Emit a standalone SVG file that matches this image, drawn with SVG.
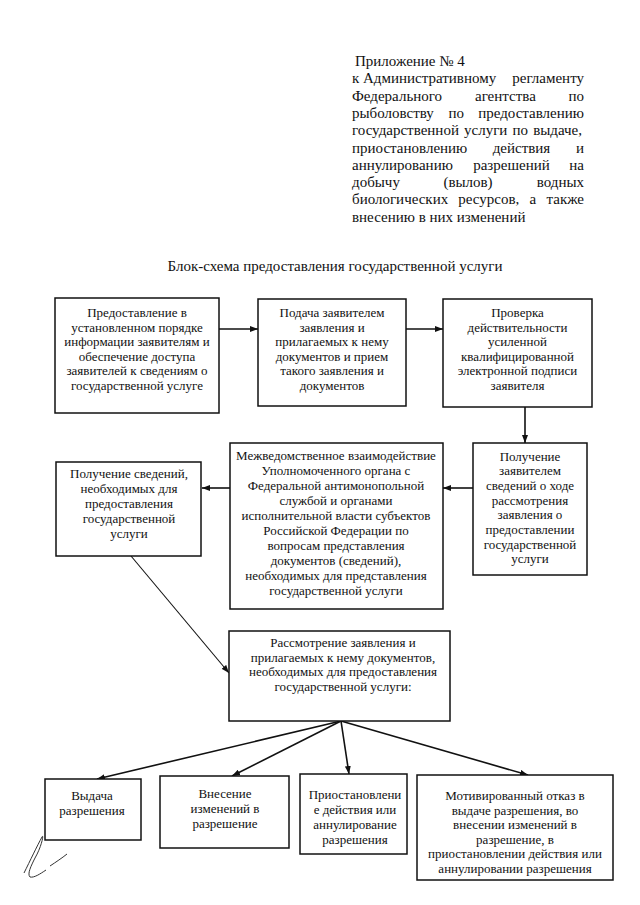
<svg xmlns="http://www.w3.org/2000/svg" width="640" height="905" viewBox="0 0 640 905">
<style>
  .hdr { font-family: "Liberation Serif", "Times New Roman", serif; font-size: 15px; fill: #111; }
  .t { font-family: "Liberation Serif", "Times New Roman", serif; font-size: 13px; fill: #111; text-anchor: middle; }
  .box { fill: #fff; stroke: #111; stroke-width: 1.5; }
  .conn { stroke: #111; stroke-width: 1.6; fill: none; }
  .thin { stroke: #111; stroke-width: 1.1; fill: none; }
</style>
<defs>
  <marker id="ah" viewBox="0 0 8 6" refX="8" refY="3" markerWidth="8" markerHeight="6" markerUnits="userSpaceOnUse" orient="auto">
    <path d="M0,0 L8,3 L0,6 Z" fill="#111"/>
  </marker>
</defs>
<rect width="640" height="905" fill="#fff"/>

<g id="header">
  <text class="hdr" x="355" y="66">Приложение № 4</text>
  <text class="hdr" x="352" y="83.3">к Административному</text>
  <text class="hdr" x="584" y="83.3" text-anchor="end">регламенту</text>
  <text class="hdr" x="352" y="100.6">Федерального</text>
  <text class="hdr" x="475" y="100.6">агентства</text>
  <text class="hdr" x="584" y="100.6" text-anchor="end">по</text>
  <text class="hdr" x="352" y="117.9">рыболовству</text>
  <text class="hdr" x="448.6" y="117.9">по</text>
  <text class="hdr" x="584" y="117.9" text-anchor="end">предоставлению</text>
  <text class="hdr" x="352" y="135.2" word-spacing="1.4">государственной услуги по выдаче,</text>
  <text class="hdr" x="352" y="152.5">приостановлению</text>
  <text class="hdr" x="492.7" y="152.5">действия</text>
  <text class="hdr" x="584" y="152.5" text-anchor="end">и</text>
  <text class="hdr" x="352" y="169.8">аннулированию</text>
  <text class="hdr" x="473.2" y="169.8">разрешений</text>
  <text class="hdr" x="584" y="169.8" text-anchor="end">на</text>
  <text class="hdr" x="352" y="187.1">добычу</text>
  <text class="hdr" x="443.4" y="187.1">(вылов)</text>
  <text class="hdr" x="584" y="187.1" text-anchor="end">водных</text>
  <text class="hdr" x="352" y="204.4">биологических</text>
  <text class="hdr" x="458.3" y="204.4">ресурсов,</text>
  <text class="hdr" x="529.5" y="204.4">а</text>
  <text class="hdr" x="584" y="204.4" text-anchor="end">также</text>
  <text class="hdr" x="352" y="221.7">внесению в них изменений</text>
</g>

<g id="title">
  <text class="hdr" x="335" y="271" text-anchor="middle">Блок-схема предоставления государственной услуги</text>
</g>

<g id="connectors">
  <line class="conn" x1="219" y1="329" x2="258" y2="329" marker-end="url(#ah)"/>
  <line class="conn" x1="406" y1="329" x2="443" y2="329" marker-end="url(#ah)"/>
  <line class="conn" x1="525" y1="407" x2="525" y2="443" marker-end="url(#ah)"/>
  <line class="conn" x1="473" y1="488" x2="443" y2="488" marker-end="url(#ah)"/>
  <line class="conn" x1="230" y1="488" x2="202" y2="488" marker-end="url(#ah)"/>
  <line class="thin" x1="131" y1="556" x2="229" y2="673" marker-end="url(#ah)"/>
  <line class="conn" x1="341" y1="721" x2="97" y2="779" marker-end="url(#ah)"/>
  <line class="conn" x1="341" y1="721" x2="232" y2="776" marker-end="url(#ah)"/>
  <line class="conn" x1="341" y1="721" x2="349" y2="774" marker-end="url(#ah)"/>
  <line class="conn" x1="341" y1="721" x2="528" y2="775" marker-end="url(#ah)"/>
</g>

<g id="n1">
  <rect class="box" x="55" y="298" width="164" height="115"/>
  <text class="t" x="137" y="317">Предоставление в</text>
  <text class="t" x="137" y="331.5">установленном порядке</text>
  <text class="t" x="137" y="346">информации заявителям и</text>
  <text class="t" x="137" y="360.5">обеспечение доступа</text>
  <text class="t" x="137" y="375">заявителей к сведениям о</text>
  <text class="t" x="137" y="389.5">государственной услуге</text>
</g>

<g id="n2">
  <rect class="box" x="258" y="299" width="148" height="107"/>
  <text class="t" x="332" y="317">Подача заявителем</text>
  <text class="t" x="332" y="331.5">заявления и</text>
  <text class="t" x="332" y="346">прилагаемых к нему</text>
  <text class="t" x="332" y="360.5">документов и прием</text>
  <text class="t" x="332" y="375">такого заявления и</text>
  <text class="t" x="332" y="389.5">документов</text>
</g>

<g id="n3">
  <rect class="box" x="443" y="299" width="149" height="108"/>
  <text class="t" x="517.5" y="317">Проверка</text>
  <text class="t" x="517.5" y="331.5">действительности</text>
  <text class="t" x="517.5" y="346">усиленной</text>
  <text class="t" x="517.5" y="360.5">квалифицированной</text>
  <text class="t" x="517.5" y="375">электронной подписи</text>
  <text class="t" x="517.5" y="389.5">заявителя</text>
</g>

<g id="n4">
  <rect class="box" x="473" y="443" width="114" height="132"/>
  <text class="t" x="530" y="460.5">Получение</text>
  <text class="t" x="530" y="475.2">заявителем</text>
  <text class="t" x="530" y="489.9">сведений о ходе</text>
  <text class="t" x="530" y="504.6">рассмотрения</text>
  <text class="t" x="530" y="519.3">заявления о</text>
  <text class="t" x="530" y="534">предоставлении</text>
  <text class="t" x="530" y="548.7">государственной</text>
  <text class="t" x="530" y="563.4">услуги</text>
</g>

<g id="n5">
  <rect class="box" x="230" y="443" width="213" height="166"/>
  <text class="t" x="336" y="459.5">Межведомственное взаимодействие</text>
  <text class="t" x="336" y="474.5">Уполномоченного органа с</text>
  <text class="t" x="336" y="489.5">Федеральной антимонопольной</text>
  <text class="t" x="336" y="504.5">службой и органами</text>
  <text class="t" x="336" y="519.5">исполнительной власти субъектов</text>
  <text class="t" x="336" y="534.5">Российской Федерации по</text>
  <text class="t" x="336" y="549.5">вопросам представления</text>
  <text class="t" x="336" y="564.5">документов (сведений),</text>
  <text class="t" x="336" y="579.5">необходимых для представления</text>
  <text class="t" x="336" y="594.5">государственной услуги</text>
</g>

<g id="n6">
  <rect class="box" x="56" y="462" width="145" height="94"/>
  <text class="t" x="129" y="477.5">Получение сведений,</text>
  <text class="t" x="129" y="492.5">необходимых для</text>
  <text class="t" x="129" y="507.5">предоставления</text>
  <text class="t" x="129" y="522.5">государственной</text>
  <text class="t" x="129" y="537.5">услуги</text>
</g>

<g id="n7">
  <rect class="box" x="229" y="631" width="221" height="90"/>
  <text class="t" x="343" y="647">Рассмотрение заявления и</text>
  <text class="t" x="343" y="661.5">прилагаемых к нему документов,</text>
  <text class="t" x="343" y="676">необходимых для предоставления</text>
  <text class="t" x="343" y="690.5">государственной услуги:</text>
</g>

<g id="n8">
  <rect class="box" x="45" y="779" width="96" height="61"/>
  <text class="t" x="92" y="800">Выдача</text>
  <text class="t" x="92" y="815">разрешения</text>
</g>

<g id="n9">
  <rect class="box" x="160" y="776" width="129" height="72"/>
  <text class="t" x="225" y="798">Внесение</text>
  <text class="t" x="225" y="813">изменений в</text>
  <text class="t" x="225" y="828">разрешение</text>
</g>

<g id="n10">
  <rect class="box" x="300" y="774" width="107" height="80"/>
  <text class="t" x="355" y="799">Приостановлени</text>
  <text class="t" x="355" y="814">е действия или</text>
  <text class="t" x="355" y="829">аннулирование</text>
  <text class="t" x="355" y="844">разрешения</text>
</g>

<g id="n11">
  <rect class="box" x="417" y="775" width="196" height="105"/>
  <text class="t" x="515" y="800">Мотивированный отказ в</text>
  <text class="t" x="515" y="814.5">выдаче разрешения, во</text>
  <text class="t" x="515" y="829">внесении изменений в</text>
  <text class="t" x="515" y="843.5">разрешение, в</text>
  <text class="t" x="515" y="858">приостановлении действия или</text>
  <text class="t" x="515" y="872.5">аннулировании разрешения</text>
</g>

<g id="signature">
  <path d="M24,873 C30,861 37,846 42,837 C44,833 42,846 35,858 C31,866 27,874 30,877 C34,878 40,874 46,870 M50,866 C56,862 62,858 67,854" fill="none" stroke="#333" stroke-width="1"/>
</g>
</svg>
